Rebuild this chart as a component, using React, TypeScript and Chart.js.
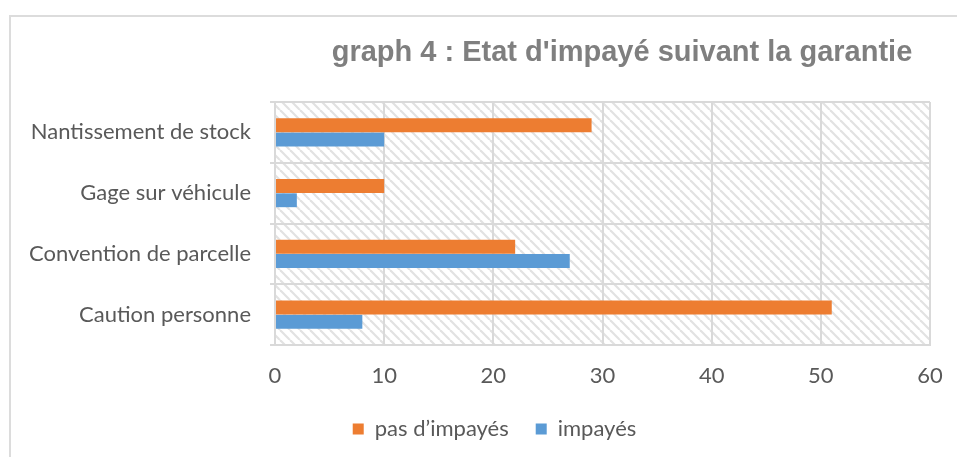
import React, { useEffect, useRef } from "react";
import { Chart, registerables } from "chart.js";

Chart.register(...registerables);

const categories = [
  "Nantissement de stock",
  "Gage sur véhicule",
  "Convention de parcelle",
  "Caution personne",
];
const pasImpayes = [29, 10, 22, 51];
const impayes = [10, 2, 27, 8];
const seriesNames = ["pas d\u2019impayés", "impayés"];
const xTicks = [0, 10, 20, 30, 40, 50, 60];
const titleText = "graph 4 : Etat d'impayé suivant la garantie";

const FONT = "Lato, 'Open Sans', sans-serif";
const TEXT = "#595959";
const GRID = "#d9d9d9";

function makePattern(): CanvasPattern | string {
  const s = 10;
  const c = document.createElement("canvas");
  c.width = s;
  c.height = s;
  const g = c.getContext("2d");
  if (!g) return "#fff";
  g.fillStyle = "#ffffff";
  g.fillRect(0, 0, s, s);
  g.strokeStyle = "#e2e2e2";
  g.lineWidth = 2.2;
  for (const k of [-s, 0, s]) {
    g.beginPath();
    g.moveTo(k, 0);
    g.lineTo(k + s, s);
    g.stroke();
  }
  const p = g.createPattern(c, "repeat");
  return p || "#fff";
}

const hatchPlugin = {
  id: "hatch",
  beforeDraw(chart: any) {
    const { ctx, chartArea } = chart;
    ctx.save();
    ctx.fillStyle = makePattern();
    ctx.fillRect(chartArea.left, chartArea.top, chartArea.right - chartArea.left, chartArea.bottom - chartArea.top);
    ctx.restore();
  },
};

const legendShiftPlugin = {
  id: "legendShift",
  afterLayout(chart: any) {
    const lg = chart.legend;
    if (lg) {
      lg.left += 29.5;
      lg.right += 29.5;
    }
  },
};

const titlePlugin = {
  id: "customTitle",
  afterDraw(chart: any) {
    const { ctx } = chart;
    ctx.save();
    ctx.font = "bold 29px 'Liberation Sans', Arial, sans-serif";
    ctx.fillStyle = "#7f7f7f";
    ctx.textAlign = "center";
    ctx.textBaseline = "middle";
    ctx.fillText(titleText, 622, 53);
    ctx.restore();
  },
};

export default function App() {
  const ref = useRef<HTMLCanvasElement>(null);

  useEffect(() => {
    document.body.style.overflow = "hidden";
    document.documentElement.style.overflow = "hidden";
    if (!ref.current) return;
    const chart = new Chart(ref.current, {
      type: "bar",
      data: {
        labels: categories,
        datasets: [
          {
            label: seriesNames[0],
            data: pasImpayes,
            backgroundColor: "#ED7D31",
            borderWidth: 0,
            categoryPercentage: 0.47,
            barPercentage: 0.97,
          },
          {
            label: seriesNames[1],
            data: impayes,
            backgroundColor: "#5B9BD5",
            borderWidth: 0,
            categoryPercentage: 0.47,
            barPercentage: 0.97,
          },
        ],
      },
      options: {
        indexAxis: "y",
        animation: false,
        responsive: true,
        maintainAspectRatio: false,
        layout: { padding: { left: 0, right: 27, top: 102, bottom: 7 } },
        plugins: {
          title: { display: false },
          tooltip: { enabled: false },
          legend: {
            position: "bottom",
            labels: {
              boxWidth: 11,
              boxHeight: 11,
              padding: 27,
              color: TEXT,
              font: { family: FONT, size: 22 },
            },
          },
        },
        scales: {
          x: {
            min: 0,
            max: 60,
            afterBuildTicks: (s: any) => {
              s.ticks = xTicks.map((v) => ({ value: v }));
            },
            afterFit: (s: any) => {
              s.height = 46;
              s.paddingLeft = 0;
              s.paddingRight = 0;
            },
            grid: { color: GRID, lineWidth: 2, drawTicks: false },
            border: { display: true, color: GRID, width: 2 },
            ticks: { color: TEXT, font: { family: FONT, size: 22 }, padding: 18 },
          },
          y: {
            afterFit: (s: any) => {
              s.width = 275;
            },
            grid: { color: GRID, lineWidth: 2, tickLength: 5, offset: true },
            border: { display: true, color: GRID, width: 2 },
            ticks: { color: TEXT, font: { family: FONT, size: 22 }, padding: 19 },
          },
        },
      },
      plugins: [hatchPlugin, legendShiftPlugin, titlePlugin],
    });
    return () => chart.destroy();
  }, []);

  return (
    <>
      <div
        style={{
          position: "absolute",
          left: 9,
          top: 15,
          width: 1000,
          height: 500,
          borderTop: "2px solid #dcdcdc",
          borderLeft: "2px solid #dcdcdc",
        }}
      />
      <div style={{ position: "absolute", left: 0, top: 0, width: 957, height: 457 }}>
        <canvas ref={ref} />
      </div>
    </>
  );
}
